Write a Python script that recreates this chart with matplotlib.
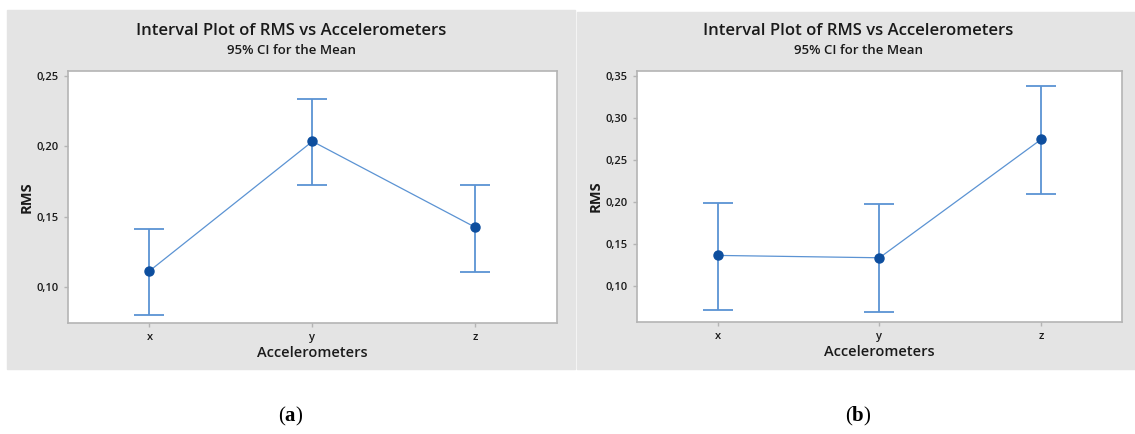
import matplotlib.pyplot as plt
from matplotlib.patches import Rectangle

# categories and CI values
groups = ["x", "y", "z"]

mean_a = [0.1117, 0.2036, 0.1426]
low_a = [0.0804, 0.1725, 0.1110]
high_a = [0.1411, 0.2336, 0.1730]
yticks_a = [0.10, 0.15, 0.20, 0.25]

mean_b = [0.1363, 0.1335, 0.2745]
low_b = [0.0711, 0.0683, 0.2092]
high_b = [0.1992, 0.1980, 0.3387]
yticks_b = [0.10, 0.15, 0.20, 0.25, 0.30, 0.35]

plt.rcParams["font.family"] = ["Open Sans", "DejaVu Sans"]
plt.rcParams["mathtext.fontset"] = "custom"
plt.rcParams["mathtext.rm"] = "Liberation Serif"
plt.rcParams["mathtext.bf"] = "Liberation Serif:bold"

line_col = "#5b93d3"
dot_col = "#0d4e9e"
frame_col = "#b4b4b4"
panel_col = "#e4e4e4"


def interval_plot(fig, rect, means, lows, highs, yticks, ylim, panel, cx):
    # gray background of the panel, kept behind the axes
    fig.patches.append(Rectangle((panel[0], panel[1]), panel[2], panel[3],
                                 transform=fig.transFigure, color=panel_col, zorder=-5))
    ax = fig.add_axes(rect)
    pos = list(range(len(groups)))
    err = [[m - l for m, l in zip(means, lows)], [h - m for m, h in zip(means, highs)]]
    ax.errorbar(pos, means, yerr=err, fmt="none", ecolor=line_col, elinewidth=1.3,
                capsize=10.5, capthick=1.3)
    ax.plot(pos, means, color=line_col, lw=0.9)
    ax.plot(pos, means, "o", color=dot_col, ms=6.5)
    ax.set_xlim(-0.5, 2.5)
    ax.set_ylim(*ylim)
    ax.set_xticks(pos)
    ax.set_xticklabels(groups)
    ax.set_yticks(yticks)
    ax.set_yticklabels([("%.2f" % t).replace(".", ",") for t in yticks])
    for s in ax.spines.values():
        s.set_color(frame_col)
        s.set_linewidth(1.2)
    ax.tick_params(colors=frame_col, labelcolor="#1a1a1a", labelsize=8, length=3, width=1)
    for lbl in ax.get_xticklabels() + ax.get_yticklabels():
        lbl.set_fontweight("semibold")
    ax.set_xlabel("Accelerometers", fontsize=10.5, fontweight="semibold", color="#1a1a1a", labelpad=2)
    ax.set_ylabel("RMS", fontsize=10.5, fontweight="bold", color="#1a1a1a", labelpad=2)
    fig.text(cx, 0.928, "Interval Plot of RMS vs Accelerometers", ha="center", va="center",
             fontsize=12, fontweight="semibold", color="#1a1a1a")
    fig.text(cx, 0.884, "95% CI for the Mean", ha="center", va="center",
             fontsize=9.5, fontweight="semibold", color="#1a1a1a")
    return ax


fig = plt.figure(figsize=(11.35, 4.34), dpi=100)

interval_plot(fig, [0.0599, 0.2558, 0.4308, 0.5806], mean_a, low_a, high_a, yticks_a,
              (0.0748, 0.2535), (0.0062, 0.1498, 0.5004, 0.8272), 0.2564)
interval_plot(fig, [0.5612, 0.2581, 0.4273, 0.5783], mean_b, low_b, high_b, yticks_b,
              (0.057, 0.356), (0.5084, 0.1498, 0.4916, 0.8226), 0.7565)

fig.text(0.2564, 0.04, r"($\mathbf{a}$)", ha="center", va="center", fontsize=15,
         family="Liberation Serif")
fig.text(0.7565, 0.04, r"($\mathbf{b}$)", ha="center", va="center", fontsize=15,
         family="Liberation Serif")

plt.savefig("out.png", dpi=100)
